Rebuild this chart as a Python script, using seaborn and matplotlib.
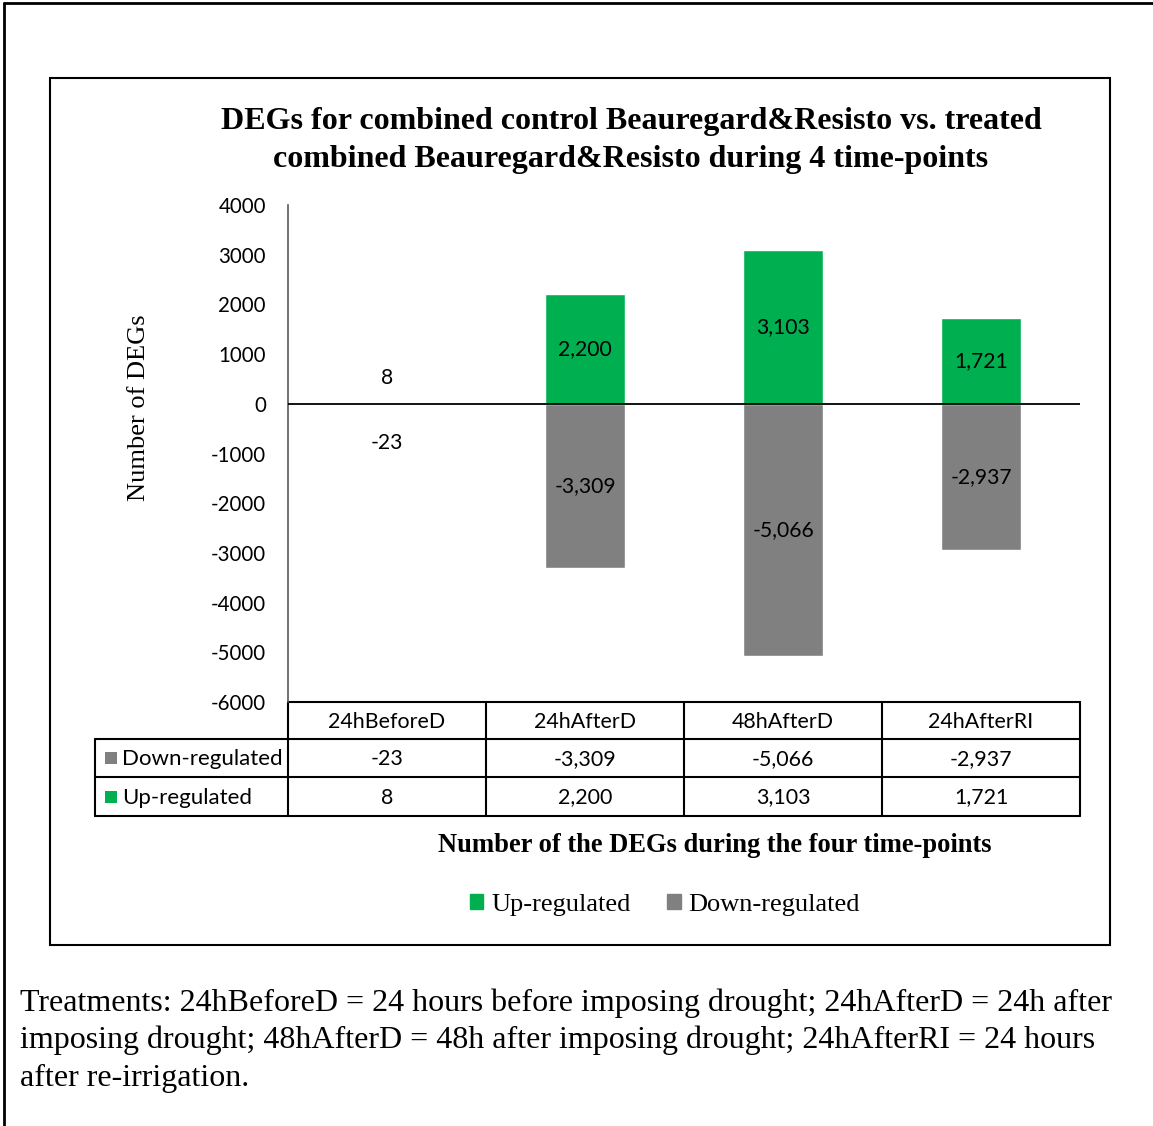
import matplotlib
matplotlib.use("Agg")
import matplotlib.pyplot as plt
from matplotlib.patches import Rectangle, Patch
import seaborn as sns
import pandas as pd

# Data
timepoints = ["24hBeforeD", "24hAfterD", "48hAfterD", "24hAfterRI"]
up_regulated = [8, 2200, 3103, 1721]
down_regulated = [-23, -3309, -5066, -2937]
y_ticks = [4000, 3000, 2000, 1000, 0, -1000, -2000, -3000, -4000, -5000, -6000]

GREEN = "#00B050"
GRAY = "#808080"
W, H = 1153, 1126

sns.set_theme(style="white")
plt.rcParams["font.family"] = ["Lato", "DejaVu Sans"]
plt.rcParams["text.color"] = "black"
plt.rcParams["ytick.color"] = "black"
SERIF = ["Liberation Serif", "DejaVu Serif"]
SANS = ["Lato", "DejaVu Sans"]

df = pd.DataFrame({"time": timepoints, "up": up_regulated, "down": down_regulated})

fig = plt.figure(figsize=(W / 100, H / 100), dpi=100)

# Overlay in pixel coordinates for frames, table, legend and notes
ov = fig.add_axes([0, 0, 1, 1], zorder=0)
ov.set_xlim(0, W)
ov.set_ylim(H, 0)
ov.axis("off")

# Main chart axes
ax_l, ax_r, ax_t, ax_b = 288, 1080, 205, 702
ax = fig.add_axes([ax_l / W, 1 - ax_b / H, (ax_r - ax_l) / W, (ax_b - ax_t) / H], zorder=2)
ax.set_facecolor("none")

sns.barplot(data=df, x="time", y="up", color=GREEN, width=0.4, saturation=1, ax=ax)
sns.barplot(data=df, x="time", y="down", color=GRAY, width=0.4, saturation=1, ax=ax)
ax.set_xlim(-0.5, 3.5)
ax.set_ylim(-6000, 4000)
ax.set_yticks(y_ticks)
ax.set_yticklabels([str(v) for v in y_ticks], fontsize=14.8, family=SANS, color="black")
ax.tick_params(axis="y", length=0, pad=16)
ax.set_xticks([])
ax.set_xlabel("")
ax.set_ylabel("")
for s in ["top", "right", "bottom"]:
    ax.spines[s].set_visible(False)
ax.spines["left"].set_color("#595959")
ax.spines["left"].set_linewidth(1.2)
ax.axhline(0, color="black", lw=1.3, zorder=3)

# Value labels
def fmt(v):
    return f"{v:,}"

LBL = 15.2
for i, (u, d) in enumerate(zip(up_regulated, down_regulated)):
    for v, small_off in ((u, 26), (d, -39)):
        if abs(v) < 300:
            ax.annotate(fmt(v), (i, 0), xytext=(0, small_off), textcoords="offset pixels",
                        ha="center", va="center", fontsize=LBL, family=SANS, zorder=4)
        else:
            ax.text(i, v / 2, fmt(v), ha="center", va="center", fontsize=LBL,
                    family=SANS, zorder=4)

# Frames
ov.plot([4, 4], [3, H], color="black", lw=2)
ov.plot([4, W], [3, 3], color="black", lw=2)
ov.add_patch(Rectangle((50, 78), 1060, 867, fill=False, ec="black", lw=1.5))

# Title
ov.text(631, 122, "DEGs for combined control Beauregard&Resisto vs. treated",
        ha="center", va="center", fontsize=23, fontweight="bold", family=SERIF)
ov.text(631, 159, "combined Beauregard&Resisto during 4 time-points",
        ha="center", va="center", fontsize=23, fontweight="bold", family=SERIF)

# Axis label
ov.text(139, 408, "Number of DEGs", rotation=90, ha="center", va="center",
        fontsize=19, family=SERIF)

# Data table below the plot
def px(xdata):
    return ax.transData.transform((xdata, 0))[0]

col_x = [px(b) for b in (-0.5, 0.5, 1.5, 2.5, 3.5)]
row_y = [702, 739, 777, 816]
lab_x0 = 95
lc = "black"
ov.plot([col_x[0], col_x[-1]], [row_y[0], row_y[0]], color=lc, lw=1.5)
for r in (1, 2, 3):
    ov.plot([lab_x0, col_x[-1]], [row_y[r], row_y[r]], color=lc, lw=1.5)
for cx in col_x:
    ov.plot([cx, cx], [row_y[0], row_y[3]], color=lc, lw=1.5)
ov.plot([lab_x0, lab_x0], [row_y[1], row_y[3]], color=lc, lw=1.5)

TBL = 15.4
for j, t in enumerate(timepoints):
    cx = (col_x[j] + col_x[j + 1]) / 2
    ov.text(cx, (row_y[0] + row_y[1]) / 2 + 1, t, ha="center", va="center",
            fontsize=TBL, family=SANS)
    ov.text(cx, (row_y[1] + row_y[2]) / 2 + 1, fmt(down_regulated[j]), ha="center",
            va="center", fontsize=TBL, family=SANS)
    ov.text(cx, (row_y[2] + row_y[3]) / 2 + 1, fmt(up_regulated[j]), ha="center",
            va="center", fontsize=TBL, family=SANS)

for (name, colr, r) in (("Down-regulated", GRAY, 1), ("Up-regulated", GREEN, 2)):
    yc = (row_y[r] + row_y[r + 1]) / 2
    ov.add_patch(Rectangle((105, yc - 6), 12, 12, color=colr, lw=0))
    ov.text(122, yc + 1, name, ha="left", va="center", fontsize=16, family=SANS)

# Category axis title
ov.text(715, 846, "Number of the DEGs during the four time-points", ha="center",
        va="center", fontsize=19.1, fontweight="bold", family=SERIF)

# Legend
leg = fig.legend(handles=[Patch(color=GREEN, label="Up-regulated"),
                          Patch(color=GRAY, label="Down-regulated")],
                 loc="center", bbox_to_anchor=(665 / W, 1 - 905 / H), ncol=2,
                 frameon=False, handlelength=0.5, handleheight=0.5, handletextpad=0.3,
                 columnspacing=1.4, prop={"family": SERIF, "size": 19})

# Footnote
notes = ["Treatments: 24hBeforeD = 24 hours before imposing drought; 24hAfterD = 24h after",
         "imposing drought; 48hAfterD = 48h after imposing drought; 24hAfterRI = 24 hours",
         "after re-irrigation."]
for k, line in enumerate(notes):
    ov.text(20, 1003 + 37.5 * k, line, ha="left", va="center", fontsize=23, family=SERIF)

fig.savefig("out.png", dpi=100)
